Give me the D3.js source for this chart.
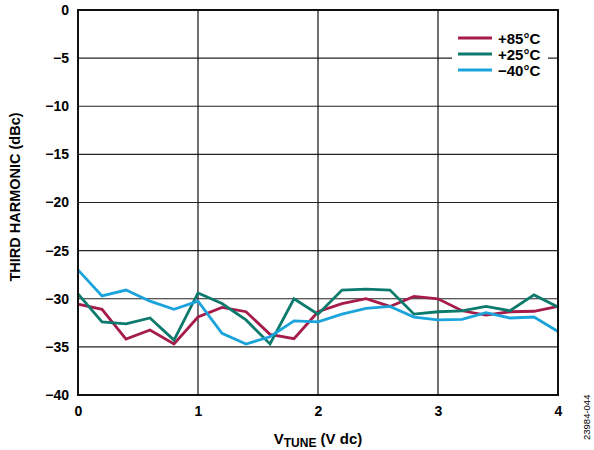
<!DOCTYPE html>
<html>
<head>
<meta charset="utf-8">
<script src="https://cdn.jsdelivr.net/npm/d3@7"></script>
<style>
  body { margin: 0; background: #fff; }
  text { font-family: Arial, "Liberation Sans", sans-serif; }
</style>
</head>
<body>
<div id="chart"></div>
<script>
const WIDTH = 594, HEIGHT = 450;
const MARGIN = { left: 78, right: 36, top: 10, bottom: 55 };

// V tune steps (V dc)
const vtune = [0, 0.2, 0.4, 0.6, 0.8, 1.0, 1.2, 1.4, 1.6, 1.8, 2.0, 2.2, 2.4, 2.6, 2.8, 3.0, 3.2, 3.4, 3.6, 3.8, 4.0];
const hot = [-30.55, -31.1, -34.2, -33.25, -34.7, -31.9, -30.9, -31.35, -33.7, -34.15, -31.35,
             -30.5, -30.0, -30.8, -29.75, -30.0, -31.25, -31.7, -31.35, -31.3, -30.8];
const room = [-29.5, -32.4, -32.6, -32.0, -34.3, -29.4, -30.5, -32.2, -34.7, -30.0, -31.6,
              -29.1, -29.0, -29.1, -31.6, -31.35, -31.25, -30.8, -31.25, -29.6, -30.85];
const cold = [-27.0, -29.7, -29.1, -30.25, -31.1, -30.25, -33.6, -34.7, -33.95, -32.3, -32.4,
              -31.6, -31.0, -30.8, -31.9, -32.2, -32.15, -31.45, -32.0, -31.9, -33.4];
const seriesNames = ["+85°C", "+25°C", "\u221240°C"];
const seriesColors = ["#a51c4b", "#0c7a6c", "#1ba3dc"];
const xTicks = [0, 1, 2, 3, 4];
const yTicks = [0, -5, -10, -15, -20, -25, -30, -35, -40];

const series = [hot, room, cold];

const svg = d3.select("#chart").append("svg")
    .attr("width", WIDTH)
    .attr("height", HEIGHT);

const x = d3.scaleLinear().domain([0, 4]).range([MARGIN.left, WIDTH - MARGIN.right]);
const y = d3.scaleLinear().domain([-40, 0]).range([HEIGHT - MARGIN.bottom, MARGIN.top]);

const fmt = v => v < 0 ? "\u2212" + Math.abs(v) : String(v);

// grid
svg.append("g").selectAll("line").data(yTicks).join("line")
    .attr("x1", x(0)).attr("x2", x(4))
    .attr("y1", d => y(d)).attr("y2", d => y(d))
    .attr("stroke", "#222").attr("stroke-width", 1.2);
svg.append("g").selectAll("line").data(xTicks).join("line")
    .attr("y1", y(0)).attr("y2", y(-40))
    .attr("x1", d => x(d)).attr("x2", d => x(d))
    .attr("stroke", "#111").attr("stroke-width", 1.2);

// axes labels via d3 axes
const yAxis = svg.append("g")
    .attr("transform", `translate(${x(0)},0)`)
    .call(d3.axisLeft(y).tickValues(yTicks).tickFormat(fmt).tickSize(0).tickPadding(9));
const xAxis = svg.append("g")
    .attr("transform", `translate(0,${y(-40)})`)
    .call(d3.axisBottom(x).tickValues(xTicks).tickFormat(d3.format("d")).tickSize(0).tickPadding(11));
[yAxis, xAxis].forEach(g => {
    g.select(".domain").remove();
    g.selectAll("text")
        .attr("fill", "#000")
        .style("font-size", "14px")
        .style("font-weight", "bold");
});

// lines
const line = d3.line().x((d, i) => x(vtune[i])).y(d => y(d));
svg.append("g").selectAll("path").data(series).join("path")
    .attr("d", line)
    .attr("fill", "none")
    .attr("stroke", (d, i) => seriesColors[i])
    .attr("stroke-width", 2.8)
    .attr("stroke-linejoin", "miter");

// frame
svg.append("rect")
    .attr("x", x(0)).attr("y", y(0))
    .attr("width", x(4) - x(0)).attr("height", y(-40) - y(0))
    .attr("fill", "none").attr("stroke", "#111").attr("stroke-width", 2);

// legend
const legend = svg.append("g");
legend.append("rect")
    .attr("x", 452).attr("y", 28).attr("width", 96).attr("height", 50)
    .attr("fill", "#fff");
seriesNames.forEach((name, i) => {
    const ly = 38 + i * 16;
    legend.append("line")
        .attr("x1", 458).attr("x2", 492)
        .attr("y1", ly).attr("y2", ly)
        .attr("stroke", seriesColors[i]).attr("stroke-width", 3);
    legend.append("text")
        .attr("x", 498).attr("y", ly + 5.5)
        .style("font-size", "15px").style("font-weight", "bold")
        .text(name);
});

// axis titles
svg.append("text")
    .attr("transform", `translate(20,197) rotate(-90)`)
    .attr("text-anchor", "middle")
    .style("font-size", "14.5px").style("font-weight", "bold")
    .text("THIRD HARMONIC (dBc)");

const xt = svg.append("text")
    .attr("x", 318).attr("y", 444)
    .attr("text-anchor", "middle")
    .style("font-size", "15px").style("font-weight", "bold");
xt.append("tspan").text("V");
xt.append("tspan").attr("dy", 3).style("font-size", "12px").text("TUNE");
xt.append("tspan").attr("dy", -3).text(" (V dc)");

svg.append("text")
    .attr("transform", "translate(589.5,440) rotate(-90)")
    .attr("text-anchor", "start")
    .style("font-size", "9.5px")
    .text("23984-044");
</script>
</body>
</html>
